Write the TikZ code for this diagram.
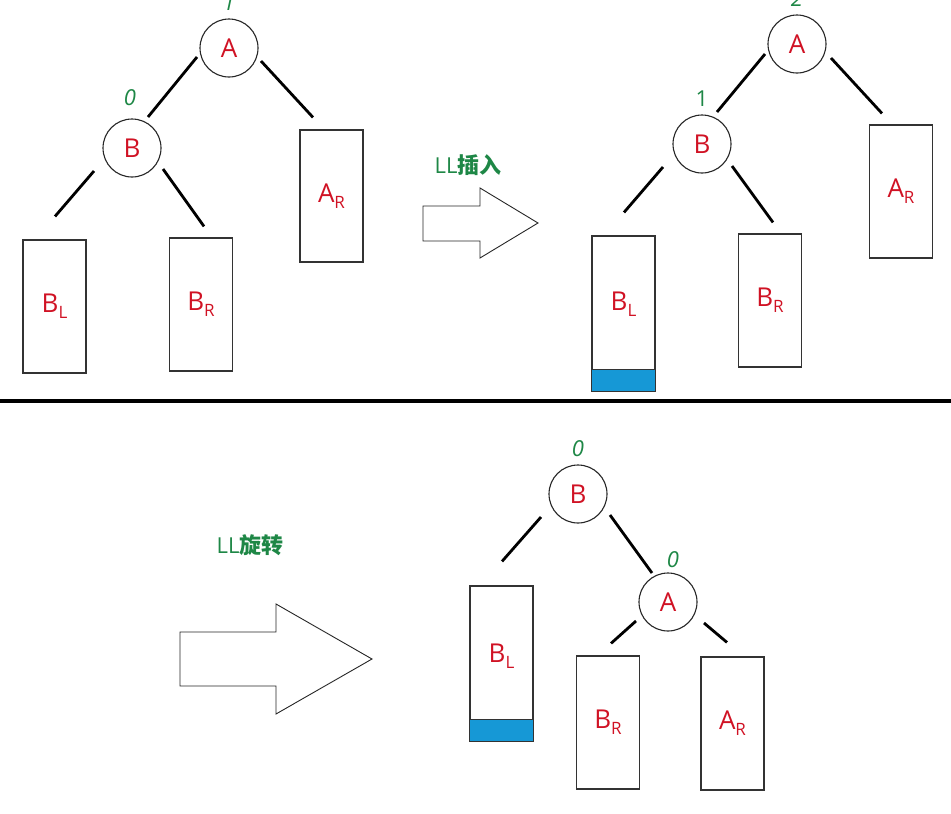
\documentclass[tikz,border=0pt]{standalone}
\usepackage{fontspec}
\setmainfont{Open Sans}
\newfontfamily\cjkf{Noto Sans CJK SC}
\definecolor{nred}{RGB}{208,18,36}
\definecolor{ngreen}{RGB}{30,135,70}
\definecolor{nblue}{RGB}{22,152,214}
\begin{document}
\begin{tikzpicture}[x=1pt,y=-1pt,
  treenode/.style={circle,draw=black!85,line width=1.1pt,minimum size=58pt,inner sep=0pt,text=nred,font=\fontsize{26}{26}\selectfont},
  subtree/.style={draw=black!80,line width=1.2pt,minimum width=63pt,inner sep=0pt,text=nred,font=\fontsize{26}{26}\selectfont},
  bal/.style={text=ngreen,font=\itshape\fontsize{22}{22}\selectfont,inner sep=0pt},
  edge/.style={line width=2.8pt,black},
  bigarrow/.style={draw=black!85,line width=0.9pt,fill=white},
  captext/.style={text=ngreen,font=\fontsize{22}{22}\selectfont,inner sep=0pt},
  leaftext/.style={text=nred,font=\fontsize{26}{26}\selectfont,inner sep=0pt}]
\useasboundingbox (0,0) rectangle (951,814);
\newcommand{\sbx}[2]{#1\raisebox{-0.45ex}{\fontsize{17}{17}\selectfont #2}}

% ---------- top left ----------
\node[treenode] (A1) at (229,48) {A};
\node[treenode] (B1) at (132,148) {B};
\node[bal] (nA1) at (229,3) {1};
\node[bal] (nB1) at (130,98) {0};
\node[subtree,minimum height=132pt] (AR1) at (331.5,196) {\sbx{A}{R}};
\node[subtree,minimum height=133pt] (BL1) at (54.5,306.5) {\sbx{B}{L}};
\node[subtree,minimum height=133pt] (BR1) at (201,304.5) {\sbx{B}{R}};
\draw[edge] ([shift={(-32,9)}]A1.center) -- ([shift={(16,-31)}]B1.center);
\draw[edge] ([shift={(32,13)}]A1.center) -- ([shift={(-18.5,-12)}]AR1.north);
\draw[edge] ([shift={(-38,23)}]B1.center) -- ([shift={(0.5,-23)}]BL1.north);
\draw[edge] ([shift={(31,21)}]B1.center) -- ([shift={(3,-11)}]BR1.north);

% ---------- arrow 1 ----------
\node[captext] (c1) at (468,165) {LL{\cjkf\bfseries 插入}};
\draw[bigarrow] (423,206) -- (480,206) -- (480,188) -- (538,223) -- (480,258) -- (480,241) -- (423,241) -- cycle;

% ---------- top right ----------
\node[treenode] (A2) at (797,44) {A};
\node[treenode] (B2) at (702,144) {B};
\node[bal] (nA2) at (797,-1) {2};
\node[bal,font=\fontsize{22}{22}\selectfont] (nB2) at (702,99) {1};
\node[subtree,minimum height=133pt] (AR2) at (901,191.5) {\sbx{A}{R}};
\node[subtree,minimum height=155pt] (BL2) at (623.5,313.5) {};
\fill[nblue] (BL2.south west) rectangle ([yshift=22pt]BL2.south east);
\draw[black!80,line width=1.2pt] (BL2.south west) rectangle (BL2.north east);
\draw[black!80,line width=1.2pt] ([yshift=22pt]BL2.south west) -- ([yshift=22pt]BL2.south east);
\node[leaftext] (tBL2) at (623.5,304) {\sbx{B}{L}};
\node[subtree,minimum height=133pt] (BR2) at (770,300.5) {\sbx{B}{R}};
\draw[edge] ([shift={(-32,10)}]A2.center) -- ([shift={(15,-32)}]B2.center);
\draw[edge] ([shift={(34,14)}]A2.center) -- ([shift={(-19,-11)}]AR2.north);
\draw[edge] ([shift={(-39,23)}]B2.center) -- ([shift={(0.5,-23)}]BL2.north);
\draw[edge] ([shift={(30,22)}]B2.center) -- ([shift={(3,-11)}]BR2.north);

% ---------- divider ----------
\draw[line width=4pt,black] (0,401) -- (951,401);

% ---------- arrow 2 ----------
\node[captext] (c2) at (250,545) {LL{\cjkf\bfseries 旋转}};
\draw[bigarrow] (180,632) -- (276,632) -- (276,604) -- (372,659) -- (276,714) -- (276,686) -- (180,686) -- cycle;

% ---------- bottom tree ----------
\node[treenode] (B3) at (578,494) {B};
\node[treenode] (A3) at (668,602) {A};
\node[bal] (nB3) at (578,449) {0};
\node[bal] (nA3) at (673,560) {0};
\node[subtree,minimum height=155pt] (BL3) at (501.5,663.5) {};
\fill[nblue] (BL3.south west) rectangle ([yshift=22pt]BL3.south east);
\draw[black!80,line width=1.2pt] (BL3.south west) rectangle (BL3.north east);
\draw[black!80,line width=1.2pt] ([yshift=22pt]BL3.south west) -- ([yshift=22pt]BL3.south east);
\node[leaftext] (tBL3) at (501.5,656) {\sbx{B}{L}};
\node[subtree,minimum height=133pt] (BR3) at (608,722.5) {\sbx{B}{R}};
\node[subtree,minimum height=133pt] (AR3) at (732.5,723.5) {\sbx{A}{R}};
\draw[edge] ([shift={(-37,23)}]B3.center) -- ([shift={(0.5,-24)}]BL3.north);
\draw[edge] ([shift={(32,21)}]B3.center) -- ([shift={(-16,-29)}]A3.center);
\draw[edge] ([shift={(-32,19)}]A3.center) -- ([shift={(3,-12)}]BR3.north);
\draw[edge] ([shift={(36,21)}]A3.center) -- ([shift={(-5.5,-14)}]AR3.north);
\end{tikzpicture}
\end{document}
